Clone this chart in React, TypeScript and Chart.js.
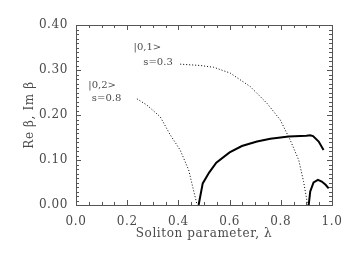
import React, { useEffect, useRef } from "react";
import { Chart, registerables } from "chart.js";

Chart.register(...registerables);

const solidAx = [0.479, 0.495, 0.52, 0.548, 0.6, 0.648, 0.707, 0.759, 0.831, 0.9, 0.915, 0.926, 0.948, 0.967];
const solidAy = [0.0, 0.048, 0.072, 0.094, 0.117, 0.131, 0.141, 0.147, 0.152, 0.154, 0.155, 0.153, 0.141, 0.122];
const solidBx = [0.909, 0.915, 0.928, 0.945, 0.96, 0.975, 0.987];
const solidBy = [0.0, 0.03, 0.05, 0.056, 0.052, 0.045, 0.037];
const dot01x = [0.407, 0.486, 0.538, 0.603, 0.681, 0.746, 0.798, 0.837, 0.87, 0.889, 0.905];
const dot01y = [0.313, 0.31, 0.306, 0.293, 0.263, 0.226, 0.189, 0.144, 0.1, 0.052, 0.0];
const dot02x = [0.238, 0.277, 0.329, 0.368, 0.407, 0.44, 0.459, 0.473];
const dot02y = [0.236, 0.222, 0.196, 0.156, 0.122, 0.078, 0.033, 0.0];

const xTicks = [0, 0.2, 0.4, 0.6, 0.8, 1.0];
const yTicks = [0, 0.1, 0.2, 0.3, 0.4];
const labels = [
  { text: "|0,1>", x: 0.225, y: 0.350 },
  { text: "s=0.3", x: 0.263, y: 0.316 },
  { text: "|0,2>", x: 0.048, y: 0.266 },
  { text: "s=0.8", x: 0.062, y: 0.237 },
];

const pts = (xs: number[], ys: number[]) => xs.map((x, i) => ({ x, y: ys[i] }));

const AXIS = "#555";
const TEXT = "#4a4a4a";
const FONT = "'DejaVu Serif', serif";

const frame = {
  id: "frame",
  beforeDraw(chart: any) {
    (chart.ctx as any).letterSpacing = "0.6px";
  },
  afterDraw(chart: any) {
    const { ctx, chartArea: a, scales } = chart;
    const xs = scales.x, ys = scales.y;
    ctx.save();
    ctx.strokeStyle = AXIS;
    ctx.lineWidth = 1;
    ctx.strokeRect(Math.round(a.left) + 0.5, Math.round(a.top) + 0.5, Math.round(a.right - a.left), Math.round(a.bottom - a.top));
    ctx.beginPath();
    for (let i = 0; i <= 20; i++) {
      const v = i * 0.05;
      const px = Math.round(xs.getPixelForValue(v)) + 0.5;
      const len = i % 4 === 0 ? 5 : 3;
      ctx.moveTo(px, a.bottom); ctx.lineTo(px, a.bottom - len);
      ctx.moveTo(px, a.top); ctx.lineTo(px, a.top + len);
    }
    for (let i = 0; i <= 40; i++) {
      const v = i * 0.01;
      const py = Math.round(ys.getPixelForValue(v)) + 0.5;
      const len = i % 10 === 0 ? 5 : 3;
      ctx.moveTo(a.left, py); ctx.lineTo(a.left + len, py);
      ctx.moveTo(a.right, py); ctx.lineTo(a.right - len, py);
    }
    ctx.stroke();
    ctx.fillStyle = TEXT;
    ctx.font = `10px ${FONT}`;
    ctx.letterSpacing = "0px";
    ctx.textBaseline = "middle";
    ctx.textAlign = "left";
    for (const l of labels) {
      ctx.fillText(l.text, xs.getPixelForValue(l.x), ys.getPixelForValue(l.y));
    }
    ctx.restore();
  },
};

export default function App() {
  const ref = useRef<HTMLCanvasElement>(null);
  useEffect(() => {
    document.body.style.margin = "0";
    const chart = new Chart(ref.current!, {
      type: "scatter",
      data: {
        datasets: [
          { data: pts(solidAx, solidAy), showLine: true, borderColor: "#000", borderWidth: 2, pointRadius: 0 },
          { data: pts(solidBx, solidBy), showLine: true, borderColor: "#000", borderWidth: 2, pointRadius: 0 },
          { data: pts(dot01x, dot01y), showLine: true, borderColor: "#000", borderWidth: 1, borderDash: [1, 2], pointRadius: 0 },
          { data: pts(dot02x, dot02y), showLine: true, borderColor: "#000", borderWidth: 1, borderDash: [1, 2], pointRadius: 0 },
        ],
      },
      plugins: [frame],
      options: {
        animation: false,
        responsive: false,
        layout: { padding: { top: 25, right: 22 } },
        plugins: { legend: { display: false }, tooltip: { enabled: false } },
        scales: {
          x: {
            type: "linear",
            min: 0,
            max: 1,
            afterBuildTicks: (s: any) => { s.ticks = xTicks.map((v) => ({ value: v })); },
            afterFit: (s: any) => { s.height = 48; },
            grid: { display: false, drawTicks: false },
            border: { display: false },
            ticks: { color: TEXT, font: { family: FONT, size: 12 }, padding: 10, callback: (v: any) => Number(v).toFixed(1) },
            title: { display: true, text: "Soliton parameter, λ", color: TEXT, font: { family: FONT, size: 12 }, padding: { top: 0, bottom: 12 } },
          },
          y: {
            type: "linear",
            min: 0,
            max: 0.4,
            afterBuildTicks: (s: any) => { s.ticks = yTicks.map((v) => ({ value: v })); },
            afterFit: (s: any) => { s.width = 76; },
            grid: { display: false, drawTicks: false },
            border: { display: false },
            ticks: { color: TEXT, font: { family: FONT, size: 12 }, padding: 8, callback: (v: any) => Number(v).toFixed(2) },
            title: { display: true, text: "Re β, Im β", color: TEXT, font: { family: FONT, size: 12 }, padding: { top: 23, bottom: 0 } },
          },
        },
      },
    });
    return () => chart.destroy();
  }, []);
  return <canvas ref={ref} width={354} height={253} style={{ display: "block" }} />;
}
